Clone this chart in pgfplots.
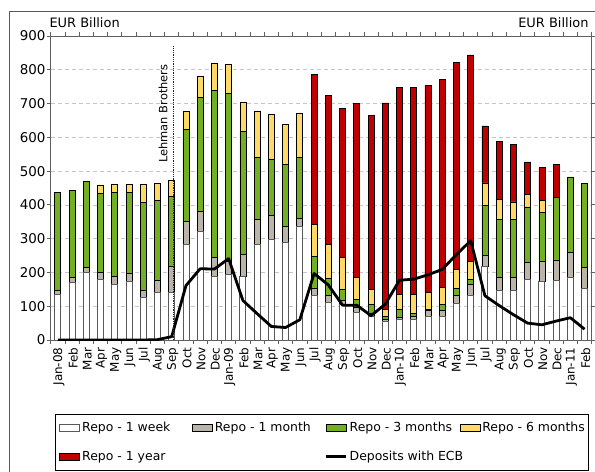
\documentclass[border=0pt]{standalone}
\usepackage{fontspec}
\setmainfont{DejaVu Sans}
\usepackage{pgfplots}
\usepackage{pgfplotstable}
\pgfplotsset{compat=1.18}

\definecolor{cMonth}{RGB}{187,180,168}
\definecolor{cThree}{RGB}{115,175,35}
\definecolor{cSix}{RGB}{255,217,102}
\definecolor{cYear}{RGB}{192,0,0}

% repo allotments by maturity (EUR bn, stacked) and deposits with ECB
\pgfplotstableread{
idx wk  mo tm  sm  yr  ecb
0   136 10 290 0   0   0
1   171 13 258 0   0   0
2   199 16 255 0   0   0
3   179 21 234 25  0   0
4   163 24 249 25  0   0
5   173 24 239 25  0   0
6   126 22 259 53  0   0
7   141 35 236 51  0   1
8   141 76 207 49  0   10
9   283 68 272 55  0   161
10  320 62 335 65  0   211
11  187 57 496 78  0   210
12  195 37 497 87  0   241
13  189 64 364 88  0   117
14  283 74 184 137 0   78
15  298 72 166 132 0   40
16  289 48 184 118 0   37
17  337 23 181 130 0   60
18  131 23 93  96  443 197
19  111 20 52  101 440 163
20  104 14 32  94  441 103
21  82  14 23  66  515 103
22  70  8  28  44  516 72
23  54  8  9   20  611 106
24  61  6  25  42  613 177
25  60  10 9   55  613 180
26  71  17 3   50  612 193
27  71  17 17  50  616 209
28  107 24 22  56  614 253
29  131 34 15  52  612 294
30  217 33 149 66  169 131
31  146 38 173 58  173 102
32  148 37 172 52  169 75
33  180 50 164 37  96  50
34  174 60 144 36  96  45
35  175 62 184 0   99  56
36  185 75 223 0   0   66
37  153 62 249 0   0   32
}\repo

\pgfplotsset{
  ecbframe/.style={
    width=541bp, height=304bp, scale only axis,
    at={(0bp,0bp)}, anchor=south west,
    xmin=-0.5, xmax=37.5, ymin=0, ymax=900,
    enlargelimits=false,
  },
  barleg/.style={legend image code/.code={\draw[##1] (0bp,-3.5bp) rectangle (20bp,3.5bp);}},
  lineleg/.style={legend image code/.code={\draw[##1] (0bp,0bp) -- (20bp,0bp);}},
}

\begin{document}
\begin{tikzpicture}
\path[use as bounding box] (-50.7bp,-132bp) rectangle (544.3bp,340bp);
\draw[gray!70!black, line width=0.8bp] (-41.7bp,-132bp) -- (-41.7bp,329bp) -- (544.3bp,329bp);

\begin{axis}[
    ecbframe,
    ybar stacked, bar width=6bp,
    axis line style={draw=gray!75!black, line width=0.8bp},
    tick align=outside,
    major tick length=4bp, minor tick length=4bp,
    ytick={0,100,...,900},
    xtick={0,...,37},
    xticklabels={Jan-08,Feb,Mar,Apr,May,Jun,Jul,Aug,Sep,Oct,Nov,Dec,Jan-09,Feb,Mar,Apr,May,Jun,Jul,Aug,Sep,Oct,Nov,Dec,Jan-10,Feb,Mar,Apr,May,Jun,Jul,Aug,Sep,Oct,Nov,Dec,Jan-11,Feb},
    minor xtick={-0.5,0.5,...,37.5},
    major x tick style={draw=none},
    minor x tick style={draw=gray!75!black, line width=0.8bp},
    major y tick style={draw=gray!75!black, line width=0.8bp},
    ymajorgrids,
    major grid style={draw=gray!45, dash pattern=on 4bp off 3bp, line width=0.6bp},
    /pgf/number format/assume math mode=true,
    yticklabel style={font=\fontsize{13.5}{15}\selectfont, inner xsep=1bp},
    xticklabel style={rotate=90, anchor=east, font=\fontsize{12}{13}\selectfont, yshift=-1bp},
]
\addplot[fill=white, draw=gray!70!black, line width=0.9bp] table[x=idx, y=wk] {\repo};
\addplot[fill=cMonth, draw=black, line width=0.7bp] table[x=idx, y=mo] {\repo};
\addplot[fill=cThree, draw=black, line width=0.7bp] table[x=idx, y=tm] {\repo};
\addplot[fill=cSix, draw=black, line width=0.7bp] table[x=idx, y=sm] {\repo};
\addplot[fill=cYear, draw=black, line width=0.7bp] table[x=idx, y=yr] {\repo};
\end{axis}

\begin{axis}[
    ecbframe, hide axis,
    legend columns=4,
    legend style={at={(0.0079,-0.2434)}, anchor=north west,
      draw=black, line width=0.8bp, inner xsep=4bp, inner ysep=8bp,
      row sep=18bp, nodes={inner sep=0pt},
      font=\fontsize{12.5}{14}\selectfont},
]
\addlegendimage{barleg, fill=white, draw=gray!70!black, line width=0.8bp}
\addlegendentry{\makebox[112bp][l]{\hspace{2bp}Repo - 1 week}}
\addlegendimage{barleg, fill=cMonth, draw=black, line width=0.7bp}
\addlegendentry{\makebox[112bp][l]{\hspace{2bp}Repo - 1 month}}
\addlegendimage{barleg, fill=cThree, draw=black, line width=0.7bp}
\addlegendentry{\makebox[112bp][l]{\hspace{2bp}Repo - 3 months}}
\addlegendimage{barleg, fill=cSix, draw=black, line width=0.7bp}
\addlegendentry{\makebox[104bp][l]{\hspace{2bp}Repo - 6 months}}
\addlegendimage{barleg, fill=cYear, draw=black, line width=0.7bp}
\addlegendentry{\makebox[112bp][l]{\hspace{2bp}Repo - 1 year}}
\addlegendimage{empty legend}
\addlegendentry{}
\addplot[lineleg, black, line width=2.8bp, line join=round, mark=none] table[x=idx, y=ecb] {\repo};
\addlegendentry{\makebox[112bp][l]{\hspace{2bp}Deposits with ECB}}

\draw[gray!30!black, densely dotted, line width=0.8bp] (axis cs:8.1,0) -- (axis cs:8.1,870);
\node[rotate=90, font=\fontsize{11.5}{13}\selectfont] at (axis cs:7.39,670) {Lehman Brothers};
\end{axis}

\node[anchor=west, font=\fontsize{13}{15}\selectfont] at (-4.7bp,317.3bp) {EUR Billion};
\node[anchor=east, font=\fontsize{13}{15}\selectfont] at (541.3bp,317bp) {EUR Billion};
\end{tikzpicture}
\end{document}
